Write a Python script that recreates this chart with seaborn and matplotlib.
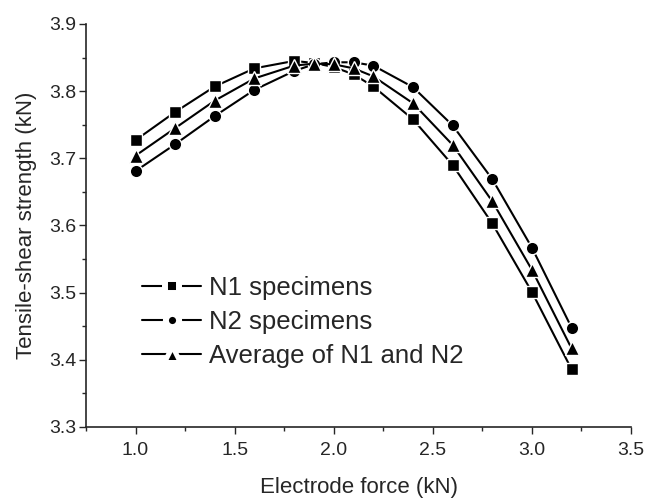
import numpy as np
import pandas as pd
import matplotlib
matplotlib.use("Agg")
import matplotlib.pyplot as plt
import seaborn as sns
from matplotlib.ticker import MultipleLocator

force = [1.0, 1.2, 1.4, 1.6, 1.8, 1.9, 2.0, 2.1, 2.2, 2.4, 2.6, 2.8, 3.0, 3.2]
n1 = [3.727, 3.769, 3.807, 3.834, 3.845, 3.842, 3.836, 3.825, 3.807, 3.758, 3.690, 3.603, 3.501, 3.386]
n2 = [3.681, 3.721, 3.763, 3.802, 3.830, 3.840, 3.843, 3.843, 3.838, 3.806, 3.749, 3.669, 3.567, 3.448]
avg = [3.704, 3.745, 3.786, 3.819, 3.838, 3.841, 3.840, 3.834, 3.822, 3.782, 3.720, 3.636, 3.534, 3.417]
labels = ["N1 specimens", "N2 specimens", "Average of N1 and N2"]
markers = ["s", "o", "^"]

sns.set_style("ticks")
plt.rcParams['font.family'] = ['Liberation Sans', 'DejaVu Sans']

fig = plt.figure(figsize=(6.45, 4.98), dpi=100)
ax = fig.add_axes([86/645, 1 - 427/498, (631-86)/645, (427-24)/498])

for vals, lab, mk in zip([n1, n2, avg], labels, markers):
    df = pd.DataFrame({"x": force, "y": vals})
    sns.lineplot(data=df, x="x", y="y", ax=ax, color="black", linewidth=1.5,
                 marker=mk, markersize=9 if mk != "^" else 10,
                 markeredgecolor="white", markeredgewidth=1.0, label=lab)

ax.set_xlim(0.75, 3.5)
ax.set_ylim(3.3, 3.9)
ax.xaxis.set_major_locator(MultipleLocator(0.5))
ax.xaxis.set_minor_locator(MultipleLocator(0.25))
ax.yaxis.set_major_locator(MultipleLocator(0.1))
ax.yaxis.set_minor_locator(MultipleLocator(0.05))
ax.set_xticks([1.0, 1.5, 2.0, 2.5, 3.0, 3.5])
ax.tick_params(axis='both', which='major', length=5, width=1, labelsize=14, direction='out')
ax.tick_params(axis='x', which='major', pad=6)
ax.tick_params(axis='y', which='major', pad=2)
ax.tick_params(axis='both', which='minor', length=3, width=1, direction='out')
for s in ["left", "bottom"]:
    ax.spines[s].set_linewidth(1.2)
for s in ["top", "right"]:
    ax.spines[s].set_visible(False)

ax.set_xlabel("Electrode force (kN)", fontsize=16, labelpad=13)
ax.set_ylabel("Tensile-shear strength (kN)", fontsize=16, labelpad=9)

leg = ax.legend(loc="upper left", bbox_to_anchor=(0.084, 0.40), frameon=False,
                fontsize=18.5, handlelength=2.3, handletextpad=0.3,
                labelspacing=0.38, borderaxespad=0)
for h, mk in zip(leg.legend_handles, markers):
    if mk == "^":
        h.set_markersize(11)
        h.set_markeredgewidth(3.6)
    else:
        h.set_markersize(9.5)
        h.set_markeredgewidth(4.3)
    h.set_markeredgecolor("white")
    h.set_linewidth(1.5)

fig.savefig("out.png", dpi=100)
